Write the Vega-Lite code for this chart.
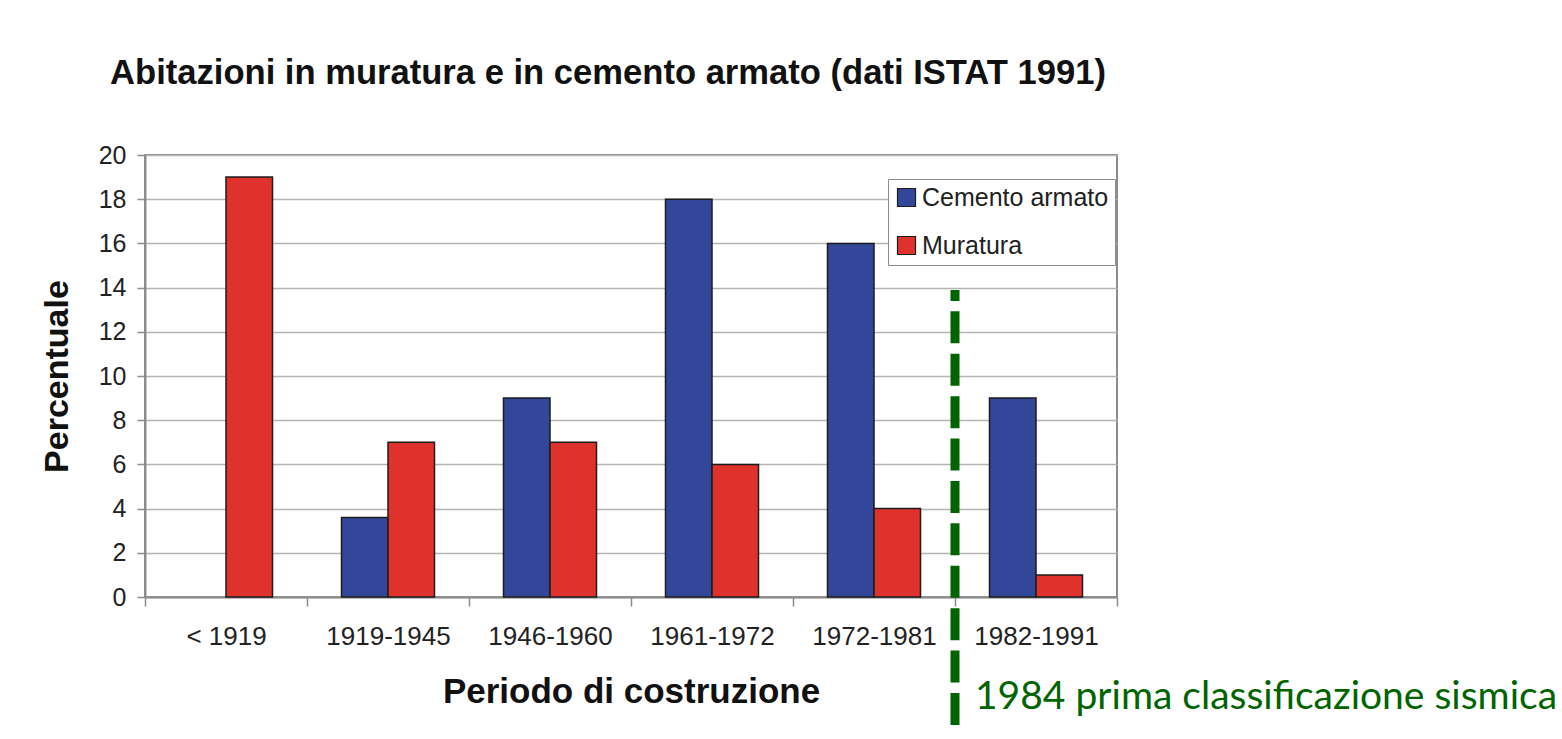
{
  "$schema": "https://vega.github.io/schema/vega-lite/v6.json",
  "width": 972,
  "height": 442,
  "autosize": {"type": "none"},
  "padding": {"left": 145, "top": 155, "right": 445, "bottom": 142},
  "background": "white",
  "title": {
    "text": "Abitazioni in muratura e in cemento armato (dati ISTAT 1991)",
    "font": "Liberation Sans",
    "fontSize": 34.6,
    "fontWeight": "bold",
    "color": "#111111",
    "anchor": "middle",
    "offset": 51,
    "dx": -23
  },
  "config": {
    "font": "Liberation Sans",
    "view": {"stroke": "#8c8c8c", "strokeWidth": 2}
  },
  "layer": [
    {
      "data": {
        "values": [
          {"periodo": "< 1919", "tipo": "Muratura", "percentuale": 19},
          {"periodo": "1919-1945", "tipo": "Cemento armato", "percentuale": 3.6},
          {"periodo": "1919-1945", "tipo": "Muratura", "percentuale": 7},
          {"periodo": "1946-1960", "tipo": "Cemento armato", "percentuale": 9},
          {"periodo": "1946-1960", "tipo": "Muratura", "percentuale": 7},
          {"periodo": "1961-1972", "tipo": "Cemento armato", "percentuale": 18},
          {"periodo": "1961-1972", "tipo": "Muratura", "percentuale": 6},
          {"periodo": "1972-1981", "tipo": "Cemento armato", "percentuale": 16},
          {"periodo": "1972-1981", "tipo": "Muratura", "percentuale": 4},
          {"periodo": "1982-1991", "tipo": "Cemento armato", "percentuale": 9},
          {"periodo": "1982-1991", "tipo": "Muratura", "percentuale": 1}
        ]
      },
      "mark": {"type": "bar", "stroke": "#1c1c1c", "strokeWidth": 1.5},
      "encoding": {
        "x": {
          "field": "periodo",
          "type": "nominal",
          "sort": ["< 1919", "1919-1945", "1946-1960", "1961-1972", "1972-1981", "1982-1991"],
          "scale": {"paddingInner": 0, "paddingOuter": 0},
          "title": "Periodo di costruzione",
          "axis": {
            "labelAngle": 0,
            "labelFontSize": 26,
            "labelColor": "#222222",
            "tickBand": "extent",
            "tickSize": 9,
            "tickWidth": 1.5,
            "tickColor": "#8c8c8c",
            "domainColor": "#8c8c8c",
            "domainWidth": 2,
            "labelPadding": 17,
            "titleFontSize": 35,
            "titleFontWeight": "bold",
            "titleColor": "#111111",
            "titlePadding": 25
          }
        },
        "xOffset": {
          "field": "tipo",
          "type": "nominal",
          "sort": ["Cemento armato", "Muratura"],
          "scale": {"domain": ["Cemento armato", "Muratura"], "paddingInner": 0, "paddingOuter": 0.742}
        },
        "y": {
          "field": "percentuale",
          "type": "quantitative",
          "scale": {"domain": [0, 20], "nice": false},
          "title": "Percentuale",
          "axis": {
            "values": [0, 2, 4, 6, 8, 10, 12, 14, 16, 18, 20],
            "labelFontSize": 25,
            "labelColor": "#222222",
            "tickColor": "#8c8c8c",
            "tickSize": 8,
            "tickWidth": 1.5,
            "domainColor": "#8c8c8c",
            "domainWidth": 2,
            "gridColor": "#b5b5b5",
            "gridWidth": 1.5,
            "labelPadding": 11,
            "titleFontSize": 34,
            "titleFontWeight": "bold",
            "titleColor": "#111111",
            "titlePadding": 24
          }
        },
        "color": {
          "field": "tipo",
          "type": "nominal",
          "scale": {"domain": ["Cemento armato", "Muratura"], "range": ["#33479A", "#E0322D"]},
          "legend": {
            "title": null,
            "orient": "none",
            "legendX": 743,
            "legendY": 24,
            "direction": "vertical",
            "symbolType": "square",
            "symbolSize": 324,
            "symbolStrokeColor": "#1c1c1c",
            "symbolStrokeWidth": 1.2,
            "labelFontSize": 25,
            "labelColor": "#222222",
            "labelLimit": 400,
            "labelOffset": 3,
            "rowPadding": 22,
            "padding": 6,
            "strokeColor": "#8c8c8c",
            "fillColor": "white"
          }
        }
      }
    },
    {
      "data": {"values": [{"pos": 5, "inizio": -5.79, "fine": 13.89}]},
      "mark": {"type": "rule", "color": "#006400", "strokeWidth": 9, "strokeDash": [32, 10.4]},
      "encoding": {
        "x": {"field": "pos", "type": "quantitative", "scale": {"domain": [0, 6], "nice": false, "zero": false}, "axis": null},
        "y": {"field": "inizio", "type": "quantitative", "scale": {"domain": [0, 20], "nice": false}, "title": "Percentuale"},
        "y2": {"field": "fine"}
      }
    },
    {
      "data": {"values": [{"pos": 5, "quota": -5.07, "nota": "1984 prima classificazione sismica"}]},
      "mark": {"type": "text", "align": "left", "baseline": "alphabetic", "dx": 20, "font": "Lato", "fontSize": 39, "color": "#006400"},
      "encoding": {
        "x": {"field": "pos", "type": "quantitative", "scale": {"domain": [0, 6], "nice": false, "zero": false}, "axis": null},
        "y": {"field": "quota", "type": "quantitative", "scale": {"domain": [0, 20], "nice": false}, "title": "Percentuale"},
        "text": {"field": "nota"}
      }
    }
  ],
  "resolve": {"scale": {"x": "independent"}}
}
